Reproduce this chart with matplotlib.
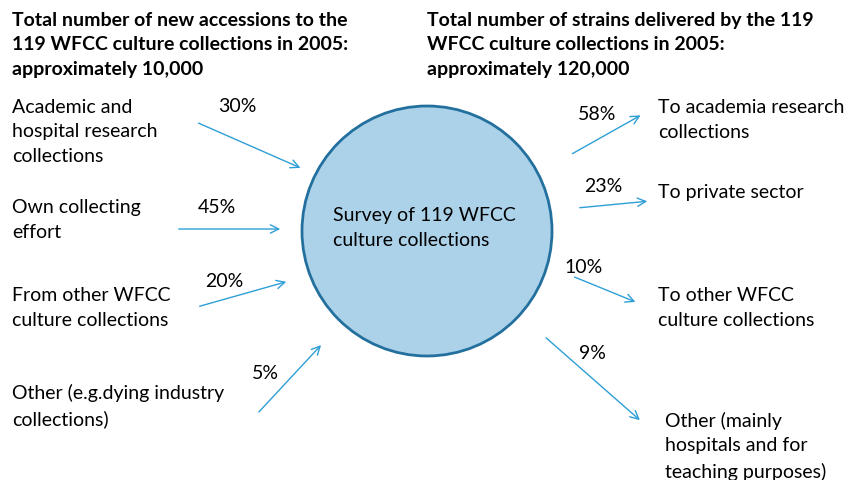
import matplotlib.pyplot as plt
from matplotlib.patches import Circle, FancyArrowPatch

plt.rcParams['font.family'] = ['Lato', 'DejaVu Sans']

in_labels = ['Academic and\nhospital research\ncollections', 'Own collecting\neffort',
             'From other WFCC\nculture collections', 'Other (e.g.dying industry\ncollections)']
in_pct = [30, 45, 20, 5]
out_labels = ['To academia research\ncollections', 'To private sector',
              'To other WFCC\nculture collections', 'Other (mainly\nhospitals and for\nteaching purposes)']
out_pct = [58, 23, 10, 9]
title_in = 'Total number of new accessions to the\n119 WFCC culture collections in 2005:\napproximately 10,000'
title_out = 'Total number of strains delivered by the 119\nWFCC culture collections in 2005:\napproximately 120,000'
center_text = 'Survey of 119 WFCC\nculture collections'

fig = plt.figure(figsize=(8.48, 4.81), dpi=100)
ax = fig.add_axes([0, 0, 1, 1])
ax.set_xlim(0, 848)
ax.set_ylim(481, 0)
ax.axis('off')

fs = 14
ls = 1.55
arrow_c = '#2e9fd6'

ax.add_patch(Circle((427, 232), 125, facecolor='#acd2ea', edgecolor='#23709e', lw=2))
ax.text(333, 228, center_text, fontsize=fs, va='center', ha='left', linespacing=ls)

ax.text(12, 45, title_in, fontsize=14, fontweight='bold', va='center', linespacing=ls)
ax.text(427, 45, title_out, fontsize=14, fontweight='bold', va='center', linespacing=ls)

# left side
in_text_y = [132, 220, 308, 406]
in_pct_xy = [(237, 107), (217, 208), (224, 282), (265, 374)]
in_arrows = [((196, 123), (303, 170)), ((176, 230), (283, 230)),
             ((197, 308), (289, 282)), ((257, 415), (323, 344))]
for lab, p, ty, pxy, (a, b) in zip(in_labels, in_pct, in_text_y, in_pct_xy, in_arrows):
    ax.text(12, ty, lab, fontsize=fs, va='center', ha='left', linespacing=ls)
    ax.text(pxy[0], pxy[1], f'{p}%', fontsize=fs, va='center', ha='center')
    ax.add_patch(FancyArrowPatch(a, b, arrowstyle='->,head_length=6,head_width=3',
                                 color=arrow_c, lw=1, mutation_scale=1))

# right side
out_text_xy = [(658, 120), (658, 193), (658, 308), (665, 446)]
out_pct_xy = [(597, 115), (603, 187), (584, 268), (592, 354)]
out_arrows = [((570, 156), (643, 115)), ((577, 209), (650, 202)),
              ((572, 277), (638, 304)), ((544, 337), (642, 423))]
for lab, p, txy, pxy, (a, b) in zip(out_labels, out_pct, out_text_xy, out_pct_xy, out_arrows):
    ax.text(txy[0], txy[1], lab, fontsize=fs, va='center', ha='left', linespacing=ls)
    ax.text(pxy[0], pxy[1], f'{p}%', fontsize=fs, va='center', ha='center')
    ax.add_patch(FancyArrowPatch(a, b, arrowstyle='->,head_length=6,head_width=3',
                                 color=arrow_c, lw=1, mutation_scale=1))

fig.savefig('out.png', dpi=100)
